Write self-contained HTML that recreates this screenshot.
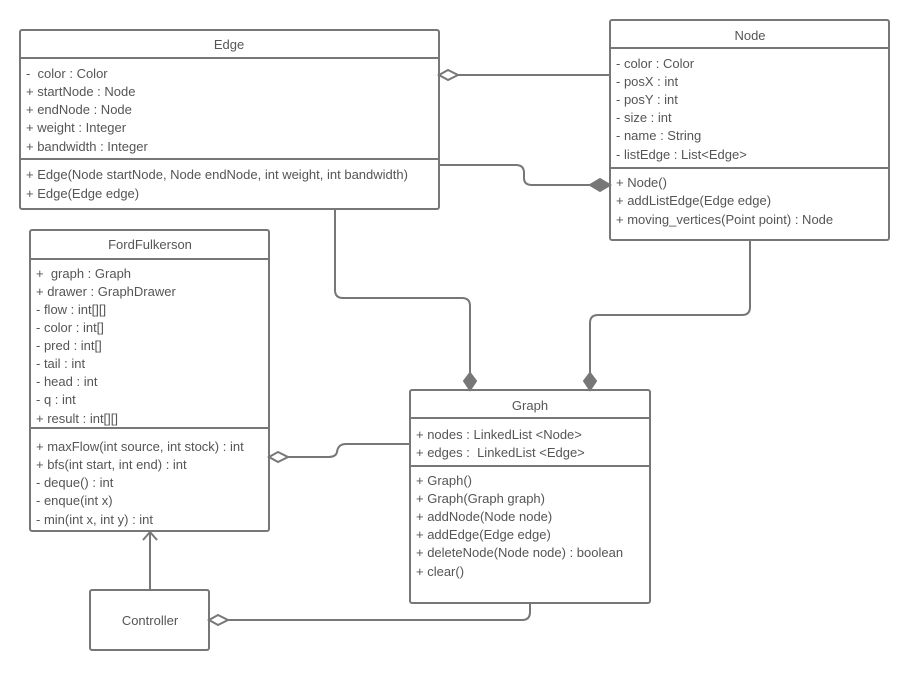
<!DOCTYPE html>
<html><head><meta charset="utf-8"><style>
body{margin:0;background:#fff;}
svg text{font-family:"Liberation Sans",sans-serif;font-size:13px;fill:#555;}
</style></head><body>
<svg width="911" height="671" xmlns="http://www.w3.org/2000/svg">
<g fill="none" stroke="#777" stroke-width="2">
<rect x="20" y="30" width="419" height="179" rx="2"/>
<line x1="20" y1="58" x2="439" y2="58"/><line x1="20" y1="159" x2="439" y2="159"/>
<rect x="610" y="20" width="279" height="220" rx="2"/>
<line x1="610" y1="48" x2="889" y2="48"/><line x1="610" y1="168" x2="889" y2="168"/>
<rect x="30" y="230" width="239" height="301" rx="2"/>
<line x1="30" y1="259" x2="269" y2="259"/><line x1="30" y1="428" x2="269" y2="428"/>
<rect x="410" y="390" width="240" height="213" rx="2"/>
<line x1="410" y1="418" x2="650" y2="418"/><line x1="410" y1="466" x2="650" y2="466"/>
<rect x="90" y="590" width="119" height="60" rx="2"/>
<line x1="458" y1="75" x2="610" y2="75"/>
<path d="M439 165 H516 Q524 165 524 173 V178 Q524 185 532 185 H590"/>
<path d="M335 209 V290 Q335 298 343 298 H462 Q470 298 470 306 V373"/>
<path d="M750 240 V307 Q750 315 742 315 H598 Q590 315 590 323 V373"/>
<path d="M288 457 H328 Q336 457 337 452 Q338 444 346 444 H410"/>
<line x1="150" y1="590" x2="150" y2="532"/>
<path d="M143 540 L150 532 L157 540"/>
<path d="M228 620 H522 Q530 620 530 612 V603"/>
</g>
<g stroke="#777" stroke-width="2">
<path d="M439 75 L448 70 L458 75 L448 80 Z" fill="#fff"/>
<path d="M590 185 L600 179 L610 185 L600 191 Z" fill="#777"/>
<path d="M470 373 L476 381 L470 390 L464 381 Z" fill="#777"/>
<path d="M590 373 L596 381 L590 390 L584 381 Z" fill="#777"/>
<path d="M269 457 L278 452 L288 457 L278 462 Z" fill="#fff"/>
<path d="M209 620 L218 615 L228 620 L218 625 Z" fill="#fff"/>
</g>
<text x="229" y="49" text-anchor="middle">Edge</text>
<text x="26" y="78" xml:space="preserve">-  color : Color</text>
<text x="26" y="96">+ startNode : Node</text>
<text x="26" y="114">+ endNode : Node</text>
<text x="26" y="132">+ weight : Integer</text>
<text x="26" y="151">+ bandwidth : Integer</text>
<text x="26" y="179">+ Edge(Node startNode, Node endNode, int weight, int bandwidth)</text>
<text x="26" y="198">+ Edge(Edge edge)</text>
<text x="750" y="40" text-anchor="middle">Node</text>
<text x="616" y="68">- color : Color</text>
<text x="616" y="86">- posX : int</text>
<text x="616" y="104">- posY : int</text>
<text x="616" y="122">- size : int</text>
<text x="616" y="140">- name : String</text>
<text x="616" y="159">- listEdge : List&lt;Edge&gt;</text>
<text x="616" y="187">+ Node()</text>
<text x="616" y="205">+ addListEdge(Edge edge)</text>
<text x="616" y="224">+ moving_vertices(Point point) : Node</text>
<text x="150" y="249" text-anchor="middle">FordFulkerson</text>
<text x="36" y="278" xml:space="preserve">+  graph : Graph</text>
<text x="36" y="296">+ drawer : GraphDrawer</text>
<text x="36" y="314">- flow : int[][]</text>
<text x="36" y="332">- color : int[]</text>
<text x="36" y="350">- pred : int[]</text>
<text x="36" y="368">- tail : int</text>
<text x="36" y="386">- head : int</text>
<text x="36" y="404">- q : int</text>
<text x="36" y="423">+ result : int[][]</text>
<text x="36" y="451">+ maxFlow(int source, int stock) : int</text>
<text x="36" y="469">+ bfs(int start, int end) : int</text>
<text x="36" y="487">- deque() : int</text>
<text x="36" y="505">- enque(int x)</text>
<text x="36" y="524">- min(int x, int y) : int</text>
<text x="530" y="410" text-anchor="middle">Graph</text>
<text x="416" y="439">+ nodes : LinkedList &lt;Node&gt;</text>
<text x="416" y="457" xml:space="preserve">+ edges :  LinkedList &lt;Edge&gt;</text>
<text x="416" y="485">+ Graph()</text>
<text x="416" y="503">+ Graph(Graph graph)</text>
<text x="416" y="521">+ addNode(Node node)</text>
<text x="416" y="539">+ addEdge(Edge edge)</text>
<text x="416" y="557">+ deleteNode(Node node) : boolean</text>
<text x="416" y="576">+ clear()</text>
<text x="150" y="625" text-anchor="middle">Controller</text>
</svg>
</body></html>
